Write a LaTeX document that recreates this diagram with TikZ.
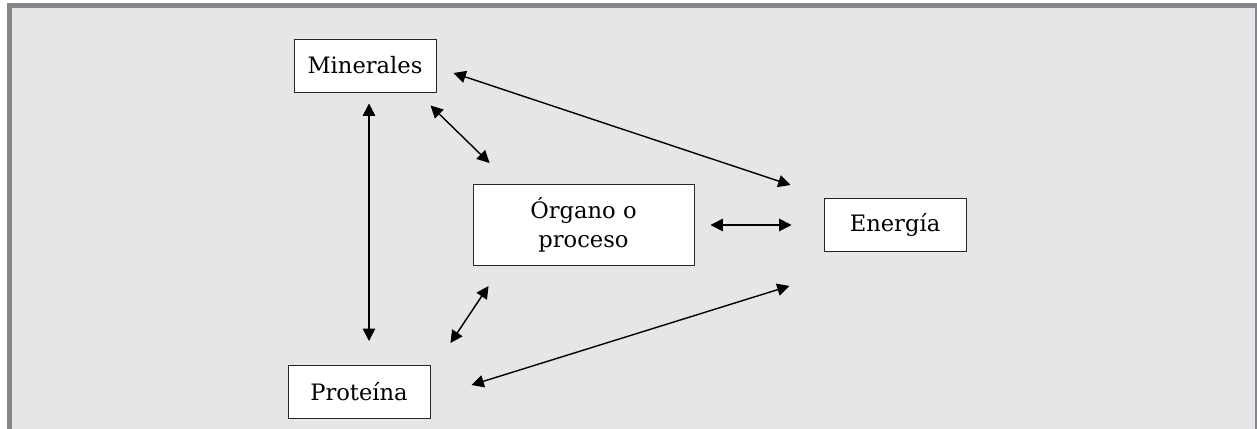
\documentclass[tikz,border=0pt]{standalone}
\usepackage{fontspec}
\setmainfont{DejaVu Serif}
\usetikzlibrary{arrows.meta,calc,positioning}

\definecolor{fondo}{HTML}{E5E6E7}
\definecolor{marco}{HTML}{86878A}

\tikzset{
  caja/.style={draw=black!85,line width=0.8pt,fill=white,inner sep=0pt,align=center,
               minimum width=4.26cm,minimum height=1.59cm},
  flecha/.style={line width=1.2pt,
               {Triangle[length=0.37cm,width=0.37cm]}-{Triangle[length=0.37cm,width=0.37cm]}}
}

\begin{document}
\begin{tikzpicture}[x=0.03cm,y=-0.03cm,font=\fontsize{19.3}{24.7}\selectfont]
\useasboundingbox (0,0) rectangle (1257,429);

% fondo y marco
\fill[white] (0,0) rectangle (1257,429);
\fill[marco] (7,3) rectangle (1257,429);
\fill[fondo] (12,8) rectangle (1255,429);

\node[caja] (minerales) at (365,65.5) {Minerales};
\node[caja] (proteina) at (359,392) {Proteína};
\node[caja] (energia) at (895,225) {Energía};
\node[caja,minimum width=6.63cm,minimum height=2.43cm] (organo) at (583.5,225) {Órgano o\\proceso};

\draw[flecha] ($(minerales.south)+(4,11)$) -- ($(proteina.north)+(10,-24)$);
\draw[flecha] ($(minerales.east)+(17,7.5)$) -- ($(energia.north west)+(-33,-13)$);
\draw[flecha] ($(minerales.south east)+(-6,13)$) -- ($(organo.north west)+(17,-21)$);
\draw[flecha] ($(organo.south west)+(16,20)$) -- ($(proteina.north east)+(20,-22)$);
\draw[flecha] ($(proteina.east)+(41,-7)$) -- ($(energia.south west)+(-34,34)$);
\draw[flecha] ($(organo.east)+(16,0)$) -- ($(energia.west)+(-32,0)$);
\end{tikzpicture}
\end{document}
